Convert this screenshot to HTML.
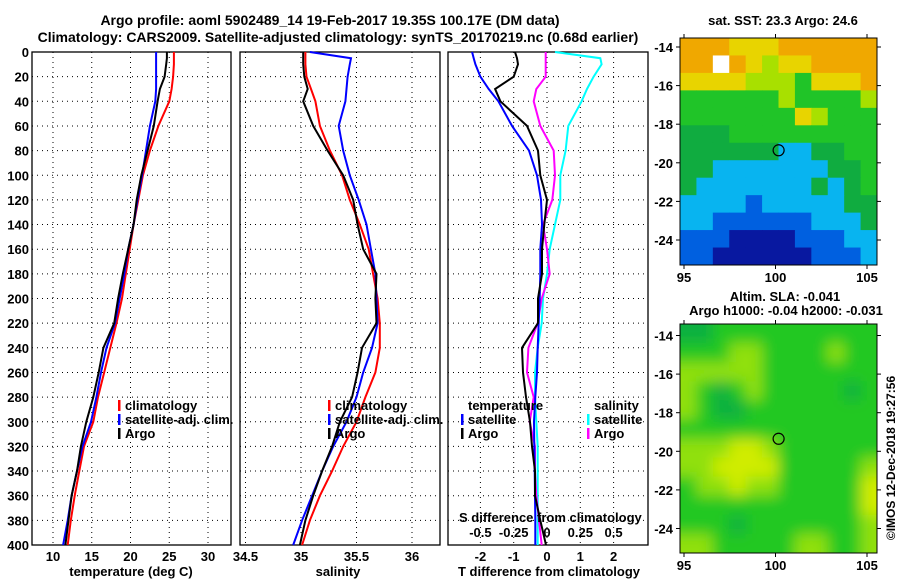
<!DOCTYPE html>
<html><head><meta charset="utf-8"><style>
body{margin:0;background:#fff;}
svg text{font-family:"Liberation Sans",sans-serif;font-weight:bold;}
</style></head><body>
<svg id="c" width="900" height="580" xmlns="http://www.w3.org/2000/svg">
<defs><filter id="bl" x="-0.2" y="-0.2" width="1.4" height="1.4"><feGaussianBlur stdDeviation="7"/></filter>
<clipPath id="m2c"><rect x="680" y="324" width="197" height="229"/></clipPath></defs>
<text x="330" y="25" font-size="14" text-anchor="middle">Argo profile: aoml 5902489_14 19-Feb-2017 19.35S 100.17E (DM data)</text>
<text x="338" y="42" font-size="14" text-anchor="middle">Climatology: CARS2009. Satellite-adjusted climatology: synTS_20170219.nc (0.68d earlier)</text>
<g id="g"></g>
</svg>
<script>
const depths=[0,5,10,20,30,40,60,80,100,120,140,160,180,200,220,240,260,280,300,320,340,360,380,400];
const tClim=[25.6,25.6,25.6,25.5,25.3,25.0,23.6,22.5,21.6,21.0,20.4,19.9,19.4,18.9,18.2,17.4,16.6,15.8,15.2,14.0,13.4,12.8,12.3,11.9];
const tSat=[23.3,23.3,23.3,23.3,23.3,23.2,22.5,22.0,21.5,20.9,20.4,19.7,19.2,18.6,18.0,16.9,16.2,15.6,14.9,13.8,13.1,12.4,11.9,11.3];
const tArgo=[24.7,24.7,24.6,24.4,23.8,23.5,23.0,22.2,21.4,20.8,20.4,19.7,19.0,18.4,17.9,16.5,15.9,15.2,14.3,13.6,13.1,12.4,12.0,11.6];
const sClim=[35.04,35.04,35.04,35.05,35.09,35.13,35.17,35.26,35.37,35.44,35.53,35.61,35.65,35.69,35.71,35.71,35.67,35.58,35.50,35.38,35.28,35.17,35.08,35.01];
const sSat=[35.08,35.45,35.44,35.42,35.41,35.40,35.34,35.38,35.44,35.52,35.59,35.63,35.67,35.68,35.69,35.64,35.56,35.50,35.41,35.29,35.19,35.10,35.01,34.93];
const sArgo=[35.02,35.02,35.02,35.03,35.06,35.02,35.11,35.24,35.38,35.47,35.51,35.56,35.68,35.67,35.68,35.55,35.51,35.46,35.35,35.28,35.19,35.11,35.04,34.99];
const dTSat=[-2.25,-2.2,-2.15,-2.0,-1.75,-1.46,-1.05,-0.54,-0.3,-0.18,-0.15,-0.2,-0.2,-0.22,-0.25,-0.28,-0.3,-0.35,-0.39,-0.38,-0.37,-0.36,-0.35,-0.35];
const dTArgo=[-0.96,-0.9,-0.87,-1.0,-1.56,-1.4,-0.6,-0.27,-0.2,0,-0.08,-0.15,-0.15,-0.27,-0.27,-0.75,-0.72,-0.63,-0.51,-0.45,-0.36,-0.36,-0.2,-0.03];
const dSSat=[0.06,0.40,0.41,0.35,0.30,0.26,0.16,0.14,0.10,0.10,0.06,0.02,0,-0.03,-0.04,-0.07,-0.09,-0.09,-0.08,-0.07,-0.07,-0.07,-0.07,-0.07];
const dSArgo=[-0.01,-0.01,-0.01,-0.01,-0.08,-0.1,-0.05,0.05,0.06,0.04,-0.03,0,0.02,-0.04,-0.07,-0.14,-0.15,-0.1,-0.13,-0.09,-0.09,-0.08,-0.06,-0.04];
const depthTicks=[0,20,40,60,80,100,120,140,160,180,200,220,240,260,280,300,320,340,360,380,400];
const tTicks=[10,15,20,25,30];
const sTicks=[34.5,35,35.5,36];
const dTicks=[-2,-1,0,1,2];
const dsTicks=[-0.5,-0.25,0,0.25,0.5];
const dsLabels=["-0.5","-0.25","0","0.25","0.5"];
const sstRows=["OOOYYYOOOOOO","OOWOYLYYOOOO","YYYYLLLGYYYO","GGGGGGLGGGGL","GGGGGGGYLGGG","DDDGGGGGGGGG","DDDDDDCCDDGG","DDCCCCCCCDDG","DCCCCCCCDCDG","CCCCBCCCCCDD","CCBBBBBBCCCD","BBBNNNNBBBCC","BBNNNNNNBBBC"];
const slaRows=["DDGGGGGGGGGG","GGGLLGGGGLGG","LLLLLGGGGGGG","LGDGLGGGGGDG","LGDDGGGGGGGG","GGGGGGGGGGGG","LLLYYLGGGGGG","LLYYYYGGGGGL","GLLYLLGGGGGY","GGGGGGGGGGGY","GGGDGGGGGGGL","LLGGGGGLLGGL"];
const ns="http://www.w3.org/2000/svg";const G=document.getElementById('g');
function mk(t,a,p){const e=document.createElementNS(ns,t);for(const k in a)e.setAttribute(k,a[k]);(p||G).appendChild(e);return e;}
const Y=d=>52+d*1.2325;
const xT=t=>53+(t-10)*7.75, xS=s=>301+(s-35)*111, xD=d=>547+d*33.3, xDS=d=>547+d*133.2;
function panel(x0,x1,name,ticks,fx,labels){
  const p=mk('g',{});
  depthTicks.forEach(d=>{if(d>0&&d<400)mk('line',{x1:x0,x2:x1,y1:Y(d),y2:Y(d),stroke:'#000','stroke-dasharray':'1 4'},p);});
  ticks.forEach((t,i)=>{const x=fx(t);mk('line',{x1:x,x2:x,y1:52,y2:545,stroke:'#000','stroke-dasharray':'1 4'},p);
    const tx=mk('text',{x:x,y:561,'font-size':13,'text-anchor':'middle'},p);tx.textContent=labels?labels[i]:t;});
  mk('rect',{x:x0,y:52,width:x1-x0,height:493,fill:'none',stroke:'#000','stroke-width':1.3},p);
}
function line(xs,fx,col,name,w){const d=xs.map((v,i)=>(i?'L':'M')+fx(v).toFixed(1)+','+Y(depths[i]).toFixed(1)).join('');
  const e=mk('path',{d:d,fill:'none',stroke:col,'stroke-width':w||2});}
depthTicks.forEach(d=>{const t=mk('text',{x:29,y:Y(d)+5,'font-size':13,'text-anchor':'end'});t.textContent=d;});
panel(32,231,'temperature-panel',tTicks,xT);
panel(240,440,'salinity-panel',sTicks,xS);
panel(448,648,'difference-panel',dTicks,xD);
line(tClim,xT,'#f00','temp-climatology-line');line(tSat,xT,'#00f','temp-satellite-line');line(tArgo,xT,'#000','temp-argo-line');
line(sClim,xS,'#f00','sal-climatology-line');line(sSat,xS,'#00f','sal-satellite-line');line(sArgo,xS,'#000','sal-argo-line');
line(dSSat,xDS,'#0ff','sdiff-satellite-line');line(dSArgo,xDS,'#f0f','sdiff-argo-line');
line(dTSat,xD,'#00f','tdiff-satellite-line');line(dTArgo,xD,'#000','tdiff-argo-line');
function txt(x,y,s,name,o){const t=mk('text',Object.assign({x:x,y:y,'font-size':13},o||{}));t.textContent=s;return t;}
function leg(x,y,col,s,name){mk('rect',{x:x,y:y-10,width:2.5,height:11,fill:col});txt(x+7,y,s,name);}
leg(118,410,'#f00','climatology','legend-climatology');leg(118,424,'#00f','satellite-adj. clim.','legend-satellite');leg(118,438,'#000','Argo','legend-argo');
leg(328,410,'#f00','climatology','legend-climatology-2');leg(328,424,'#00f','satellite-adj. clim.','legend-satellite-2');leg(328,438,'#000','Argo','legend-argo-2');
txt(468,410,'temperature','legend-temp-heading');leg(461,424,'#00f','satellite','legend-tdiff-sat');leg(461,438,'#000','Argo','legend-tdiff-argo');
txt(594,410,'salinity','legend-sal-heading');leg(587,424,'#0ff','satellite','legend-sdiff-sat');leg(587,438,'#f0f','Argo','legend-sdiff-argo');
txt(459,522,'S difference from climatology','s-diff-axis-title');
dsTicks.forEach((v,i)=>txt(xDS(v),537,dsLabels[i],'s-diff-tick',{'text-anchor':'middle'}));
txt(131,576,'temperature (deg C)','x-axis-title-temp',{'text-anchor':'middle'});
txt(338,576,'salinity','x-axis-title-sal',{'text-anchor':'middle'});
txt(549,576,'T difference from climatology','x-axis-title-tdiff',{'text-anchor':'middle'});
const cmap={O:'#f0a800',Y:'#e8d400',L:'#a8e000',G:'#20c428',D:'#10ac40',C:'#08b4f0',B:'#0060e0',N:'#0818a0',W:'#ffffff'};
const cmap2={G:'#20c820',D:'#10b040',L:'#90e010',Y:'#d0ec00'};
const lonX=l=>684+(l-95)*18.3;
function map(x0,y0,h,rows,cm,latTop,name,blur){
  const gm=mk('g',{});
  const inner=mk('g',blur?{'clip-path':'url(#m2c)'}:{},gm);const ig=mk('g',blur?{filter:'url(#bl)'}:{},inner);
  const cw=197/12,ch=h/rows.length;
  if(blur)mk('rect',{x:x0-30,y:y0-30,width:257,height:h+60,fill:cm.G},ig);
  rows.forEach((r,j)=>[...r].forEach((c,i)=>{
    let x=x0+i*cw,y=y0+j*ch,w=cw+0.5,hh=ch+0.5;
    if(blur){if(i==0){x-=20;w+=20;}if(i==11)w+=20;if(j==0){y-=20;hh+=20;}if(j==rows.length-1)hh+=20;}
    mk('rect',{x:x,y:y,width:w,height:hh,fill:cm[c]},ig);}));
  mk('rect',{x:x0,y:y0,width:197,height:h,fill:'none',stroke:'#000'},gm);
  const latY=l=>latTop+(-14-l)*19.3;
  [-14,-16,-18,-20,-22,-24].forEach(l=>{const y=latY(l);mk('line',{x1:x0,x2:x0-4,y1:y,y2:y,stroke:'#000'},gm);mk('line',{x1:x0+197,x2:x0+201,y1:y,y2:y,stroke:'#000'},gm);txt(673,y+5,l,'lat-tick',{'text-anchor':'end'});});
  [95,100,105].forEach(l=>{const x=lonX(l);mk('line',{x1:x,x2:x,y1:y0+h,y2:y0+h+4,stroke:'#000'},gm);mk('line',{x1:x,x2:x,y1:y0,y2:y0-4,stroke:'#000'},gm);txt(x,y0+h+17,l,'lon-tick',{'text-anchor':'middle'});});
  mk('circle',{cx:lonX(100.17),cy:latY(-19.35),r:5.5,fill:'none',stroke:'#000','stroke-width':1.2},gm);
}
map(680,38,227,sstRows,cmap,47,'sst-map',false);
map(680,324,229,slaRows,cmap2,335.5,'sla-map',true);
txt(783,25,'sat. SST: 23.3 Argo: 24.6','sst-map-title',{'text-anchor':'middle'});
txt(785,301,'Altim. SLA: -0.041','sla-map-title',{'text-anchor':'middle'});
txt(786,315,'Argo h1000: -0.04 h2000: -0.031','sla-map-subtitle',{'text-anchor':'middle'});
txt(895,458,'©IMOS 12-Dec-2018 19:27:56','copyright',{'text-anchor':'middle',transform:'rotate(-90 895 458)','font-weight':'normal','font-size':12});
</script>
</body></html>
